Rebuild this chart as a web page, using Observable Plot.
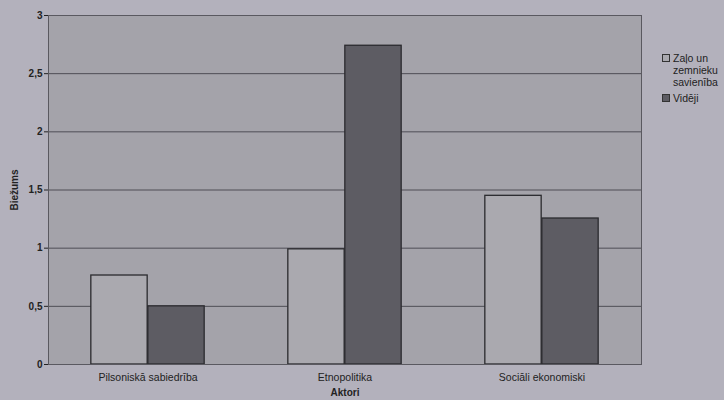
<!DOCTYPE html>
<html>
<head>
<meta charset="utf-8">
<script src="https://cdn.jsdelivr.net/npm/d3@7"></script>
<script src="https://cdn.jsdelivr.net/npm/@observablehq/plot@0.6"></script>
<style>
  html, body { margin: 0; padding: 0; background: #b3b1bc; }
  #wrap { position: relative; width: 724px; height: 400px; font-family: Arial, "Liberation Sans", sans-serif; }
  #legend { position: absolute; left: 662px; top: 52px; font-size: 10.5px; color: #222; line-height: 12px; }
  .item { display: flex; align-items: flex-start; margin-bottom: 4px; }
  .sw { width: 6px; height: 6px; border: 1px solid #333; margin-top: 2px; margin-right: 3px; flex: none; }
</style>
</head>
<body>
<div id="wrap"></div>
<script>
const categories = ["Pilsoniskā sabiedrība", "Etnopolitika", "Sociāli ekonomiski"];
const seriesNames = ["Zaļo un zemnieku savienība", "Vidēji"];
const zzsValues = [0.765, 0.99, 1.45];
const avgValues = [0.5, 2.74, 1.255];
const yTicks = [0, 0.5, 1, 1.5, 2, 2.5, 3];
const colors = ["#aaa9af", "#5d5c63"];

const zzs = categories.map((c, i) => ({category: c, value: zzsValues[i]}));
const avg = categories.map((c, i) => ({category: c, value: avgValues[i]}));

const W = 724, H = 400, mL = 48, mR = 83, mT = 15, mB = 36;
const band = (W - mL - mR) / categories.length;
const barW = 57;
const outer = (band - 2 * barW) / 2;

const fmt = d => String(d).replace(".", ",");

const chart = Plot.plot({
  width: W, height: H,
  marginLeft: mL, marginRight: mR, marginTop: mT, marginBottom: mB,
  style: {background: "transparent", fontFamily: "Arial, 'Liberation Sans', sans-serif", color: "#222"},
  x: {domain: categories, padding: 0, label: null},
  y: {domain: [0, 3], label: null},
  marks: [
    Plot.frame({fill: "#a4a3aa", stroke: "none"}),
    Plot.ruleY(yTicks, {stroke: "#4e4d55", strokeWidth: 1}),
    Plot.barY(zzs, {x: "category", y: "value", fill: colors[0], stroke: "#2a2a2e", strokeWidth: 1.3, insetLeft: outer, insetRight: outer + barW}),
    Plot.barY(avg, {x: "category", y: "value", fill: colors[1], stroke: "#2a2a2e", strokeWidth: 1.3, insetLeft: outer + barW, insetRight: outer}),
    Plot.frame({stroke: "#5a5960", strokeWidth: 1}),
    Plot.axisY({ticks: yTicks, tickFormat: fmt, tickSize: 4, tickPadding: 2, fontSize: 10, fontWeight: "bold", label: null}),
    Plot.ruleX([0], {frameAnchor: "left", stroke: "#333"}),
    Plot.axisX({tickSize: 0, tickPadding: 9, fontSize: 10.5, label: null}),
    Plot.text(["Aktori"], {frameAnchor: "bottom", dy: 31, fontSize: 10, fontWeight: "bold"}),
    Plot.text(["Biežums"], {frameAnchor: "left", textAnchor: "middle", dx: -34, rotate: -90, fontSize: 10, fontWeight: "bold"})
  ]
});

const wrap = document.getElementById("wrap");
wrap.appendChild(chart);
const legend = document.createElement("div");
legend.id = "legend";
seriesNames.forEach((name, i) => {
  const item = document.createElement("div");
  item.className = "item";
  const sw = document.createElement("div");
  sw.className = "sw";
  sw.style.background = colors[i];
  const t = document.createElement("div");
  t.style.width = i === 0 ? "58px" : "auto";
  t.textContent = name;
  item.appendChild(sw); item.appendChild(t);
  legend.appendChild(item);
});
wrap.appendChild(legend);
</script>
</body>
</html>
